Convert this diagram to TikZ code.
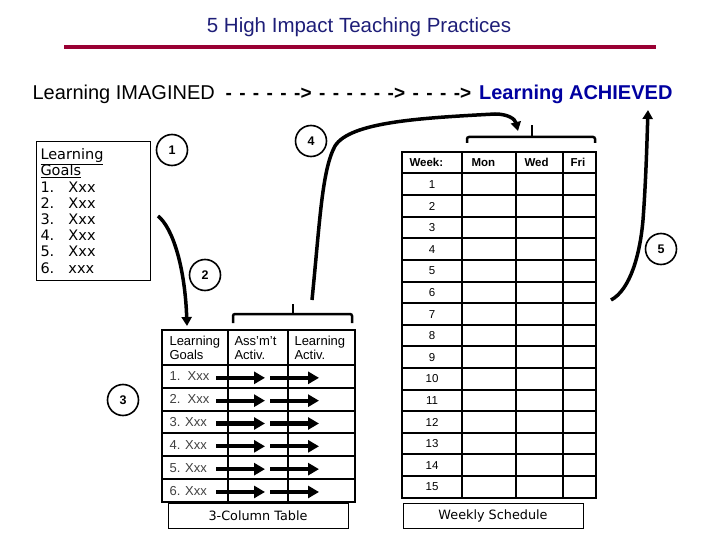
\documentclass[tikz,border=0pt]{standalone}
\usepackage{fontspec}
\setmainfont{Liberation Sans}
\newfontfamily\verdanafont{DejaVu Sans}
\usetikzlibrary{arrows.meta}
\definecolor{titleblue}{RGB}{30,30,120}
\definecolor{achblue}{RGB}{0,0,160}
\definecolor{barred}{RGB}{153,0,51}
\tikzset{
  curvy/.style={line width=3.5pt,-{Triangle[length=9pt,width=10pt]}},
  rowarrow/.style={line width=4.3pt,-{Triangle[length=11pt,width=12pt]}},
  numcirc/.style={circle,draw,line width=1.6pt,minimum size=31pt,inner sep=0pt,
    font=\bfseries\fontsize{12.5}{12.5}\selectfont},
  grid/.style={line width=2pt},
  brack/.style={line width=2.5pt,rounded corners=2pt},
  capbox/.style={draw,line width=1pt,minimum width=180pt,minimum height=25pt,
    font=\verdanafont\fontsize{12.8}{12.8}\selectfont},
  dayhead/.style={anchor=base west,font=\bfseries\fontsize{11.5}{11.5}\selectfont},
}
\begin{document}
\begin{tikzpicture}[x=1pt,y=-1pt]
\useasboundingbox (0,0) rectangle (720,540);
% heading
\node[text=titleblue,font=\fontsize{20.5}{20.5}\selectfont] (title) at (359,27) {5 High Impact Teaching Practices};
\draw[barred,line width=4pt] (64,47) -- (656,47);
\node[anchor=west,font=\fontsize{20}{20}\selectfont] (imag) at (29,94) {Learning IMAGINED};
\node[anchor=west,font=\bfseries\fontsize{19}{19}\selectfont] (dashes) at (222,94)
  {\spaceskip=0.39em - - - - - -> - - - - - -> - - - ->};
\node[anchor=east,text=achblue,font=\bfseries\fontsize{20}{20}\selectfont] (ach) at (676,94) {Learning ACHIEVED};

% goals box
\node[draw,line width=1pt,anchor=north west,minimum width=114pt,minimum height=139pt,
  text width=106pt,inner sep=3pt,align=left,
  font=\verdanafont\fontsize{14.5}{16.2}\selectfont] (goals) at (36,141)
  {\underline{Learning}\\\underline{Goals}\\
   \makebox[28pt][l]{1.}Xxx\\\makebox[28pt][l]{2.}Xxx\\\makebox[28pt][l]{3.}Xxx\\
   \makebox[28pt][l]{4.}Xxx\\\makebox[28pt][l]{5.}Xxx\\\makebox[28pt][l]{6.}xxx};

% numbers
\node[numcirc] (n1) at (172,150) {1};
\node[numcirc] (n2) at (205,275) {2};
\node[numcirc] (n3) at (123,400) {3};
\node[numcirc] (n4) at (311,141) {4};
\node[numcirc] (n5) at (661,249) {5};

% 3-column table
\draw[grid] (162,330) rectangle (355,502);
\draw[grid] (228,330) -- (228,502);
\draw[grid] (288,330) -- (288,502);
\foreach \i in {0,...,5}
  \draw[grid] (162,365+22.83*\i) -- (355,365+22.83*\i);
\node[anchor=north west,align=left,font=\fontsize{13}{14}\selectfont] (hg) at (166,333) {Learning\\Goals};
\node[anchor=north west,align=left,font=\fontsize{13}{14}\selectfont] (ha) at (231,333) {Ass'm't\\Activ.};
\node[anchor=north west,align=left,font=\fontsize{13}{14}\selectfont] (hl) at (291,333) {Learning\\Activ.};
\foreach \lab [count=\i] in {1.\ \ Xxx,2.\ \ Xxx,3. Xxx,4. Xxx,5. Xxx,6. Xxx} {
  \node[anchor=west,text=black!75,font=\fontsize{13}{13}\selectfont] (r\i) at (166,353.6+22.83*\i) {\lab};
  \coordinate (a\i) at (216,355+22.83*\i);
  \coordinate (b\i) at (265,355+22.83*\i);
  \coordinate (c\i) at (270,355+22.83*\i);
  \coordinate (d\i) at (319,355+22.83*\i);
  \draw[rowarrow] (a\i) -- (b\i);
  \draw[rowarrow] (c\i) -- (d\i);
}
\draw[brack] (233,323) -- (233,314) -- (352,314) -- (352,323);
\draw[line width=2.5pt] (293,314) -- (293,304);
\node[capbox] (tcap) at (258,515.5) {3-Column Table};

% weekly schedule
\draw[grid] (402,152) rectangle (596,497.5);
\foreach \x in {462,516,563}
  \draw[grid] (\x,152) -- (\x,497.5);
\foreach \i in {0,...,14}
  \draw[grid] (402,173.5+21.6*\i) -- (596,173.5+21.6*\i);
\node[dayhead] (wk) at (406,167) {Week:};
\node[dayhead] (mon) at (468,167) {Mon};
\node[dayhead] (wed) at (521,167) {Wed};
\node[dayhead] (fri) at (567,167) {Fri};
\foreach \i in {1,...,15}
  \node[font=\fontsize{11.5}{11.5}\selectfont] (w\i) at (432,163+21.6*\i) {\i};
\draw[brack] (467,143) -- (467,137) -- (595,137) -- (595,143);
\draw[line width=2.5pt] (532,137) -- (532,125);
\node[capbox] (wcap) at (493,516) {Weekly Schedule};

% curves
\coordinate (g2a) at (158,216);
\coordinate (g2b) at (187,326);
\draw[curvy] (g2a) .. controls (173,228) and (185,268) .. (g2b);
\coordinate (g4a) at (312,300);
\coordinate (g4b) at (518,131);
\draw[curvy] (g4a) .. controls (320,220) and (322,170) .. (335,146)
  .. controls (350,122) and (420,118) .. (495,114)
  .. controls (508,114) and (515,119) .. (g4b);
\coordinate (g5a) at (611,300);
\coordinate (g5b) at (648,110);
\draw[curvy] (g5a) .. controls (630,290) and (640,255) .. (643,220)
  .. controls (646,180) and (647,140) .. (g5b);
\end{tikzpicture}
\end{document}
